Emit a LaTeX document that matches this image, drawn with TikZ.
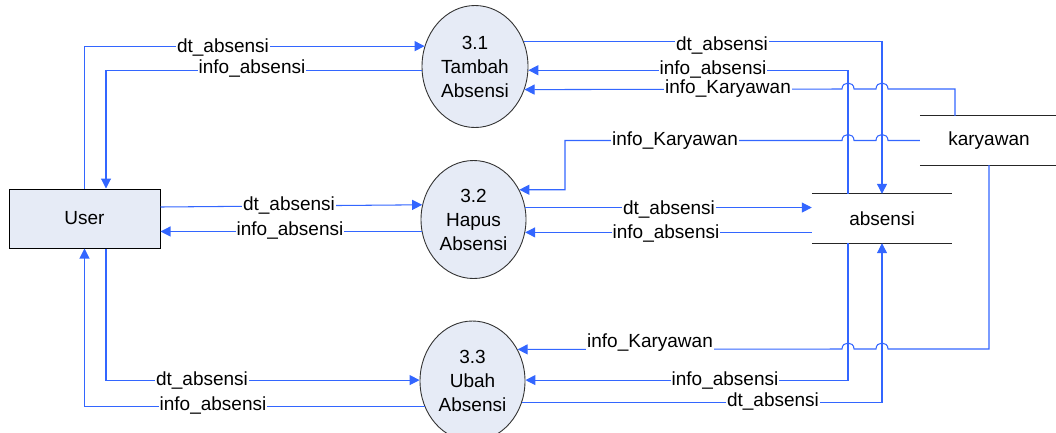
\documentclass[tikz,border=0pt]{standalone}
\usepackage{fontspec}
\setmainfont{Liberation Sans}
\usetikzlibrary{arrows.meta,shapes.geometric,calc}
\definecolor{flowblue}{RGB}{51,102,255}
\definecolor{procfill}{RGB}{230,235,246}
\begin{document}
\begin{tikzpicture}[x=1pt,y=-1pt,
  flow/.style={draw=flowblue,line width=1.05pt,-{Triangle[length=10pt,width=10pt]}},
  proc/.style={ellipse,draw=black!80,line width=0.9pt,fill=procfill,
    minimum width=106pt,minimum height=122pt,inner sep=0pt,align=center,
    font=\fontsize{19}{24}\selectfont},
  extent/.style={rectangle,draw=black,line width=1pt,fill=procfill,
    minimum width=151pt,minimum height=59pt,font=\fontsize{19}{23}\selectfont},
  store/.style={rectangle,minimum width=140pt,minimum height=49pt,inner sep=0pt,
    font=\fontsize{19}{23}\selectfont},
  storeline/.style={draw=black!85,line width=1pt},
  lbl/.style={fill=white,inner sep=1pt,font=\fontsize{19}{22}\selectfont}]
\useasboundingbox (0,0) rectangle (1056,432);

% processes, external entity and data stores
\node[proc] (p1) at (475,66.5) {3.1\\Tambah\\Absensi};
\node[proc,minimum width=105pt,minimum height=118pt] (p2) at (473.5,219.5) {3.2\\Hapus\\Absensi};
\node[proc,minimum width=105pt,minimum height=120pt] (p3) at (472.5,381) {3.3\\Ubah\\Absensi};
\node[extent] (user) at (84.5,218.5) {User};
\node[store] (abs) at (882,218.5) {absensi};
\node[store,minimum width=138pt] (kar) at (989,140.5) {karyawan};
\foreach \s in {abs,kar}{
  \draw[storeline] (\s.north west) -- (\s.north east) (\s.south west) -- (\s.south east);
}

% User <-> 3.1
\draw[flow] (user.north) |- (p1.158);
\draw[flow] (p1.184) -| ($(user.north)+(21.5,0)$);
% 3.1 <-> stores
\draw[flow] (p1.27) -| (abs.north);
\draw[flow] ($(abs.north)+(-34,0)$) |- (p1.-4);
\draw[flow] ($(kar.north)+(-34,0)$) |- (888,89)
  .. controls (888,81) and (876,81) .. (876,89) -- (854,89)
  .. controls (854,81) and (842,81) .. (842,89) -- (p1.-25);

% karyawan -> 3.2
\draw[flow] (kar.west) -- (888,140.5)
  .. controls (888,132.5) and (876,132.5) .. (876,140.5) -- (854,140.5)
  .. controls (854,132.5) and (842,132.5) .. (842,140.5) -- (565,140.5) |- (p2.33);
% User <-> 3.2
\draw[flow] ($(user.east)+(0,-11.5)$) -- (p2.164);
\draw[flow] (p2.193) -- (p2.193 -| user.east);
% 3.2 <-> absensi
\draw[flow] (p2.13) -- (p2.13 -| abs.west);
\draw[flow] (abs.west |- p2.-14) -- (p2.-14);

% stores <-> 3.3
\draw[flow] (kar.south) |- (888,349)
  .. controls (888,341) and (876,341) .. (876,349) -- (854,349)
  .. controls (854,341) and (842,341) .. (842,349) -- (p3.35);
\draw[flow] ($(abs.south)+(-34,0)$) |- (p3.1);
\draw[flow] (p3.-23) -| (abs.south);
% User <-> 3.3
\draw[flow] ($(user.south)+(21.5,0)$) |- (p3.179);
\draw[flow] (p3.208) -| (user.south);

% flow labels
\node[lbl] (l1) at (223,47) {dt\_absensi};
\node[lbl] (l2) at (252,68) {info\_absensi};
\node[lbl] (l3) at (722,45) {dt\_absensi};
\node[lbl] (l4) at (713,69) {info\_absensi};
\node[lbl] (l5) at (728,89) {info\_Karyawan};
\node[lbl] (l6) at (675,141) {info\_Karyawan};
\node[lbl] (l7) at (289,205) {dt\_absensi};
\node[lbl] (l8) at (290,230) {info\_absensi};
\node[lbl] (l9) at (669,209) {dt\_absensi};
\node[lbl] (l10) at (666,233) {info\_absensi};
\node[lbl] (l11) at (650,343) {info\_Karyawan};
\node[lbl] (l12) at (725,380) {info\_absensi};
\node[lbl] (l13) at (773,401) {dt\_absensi};
\node[lbl] (l14) at (202,380) {dt\_absensi};
\node[lbl] (l15) at (213,405) {info\_absensi};
\end{tikzpicture}
\end{document}
